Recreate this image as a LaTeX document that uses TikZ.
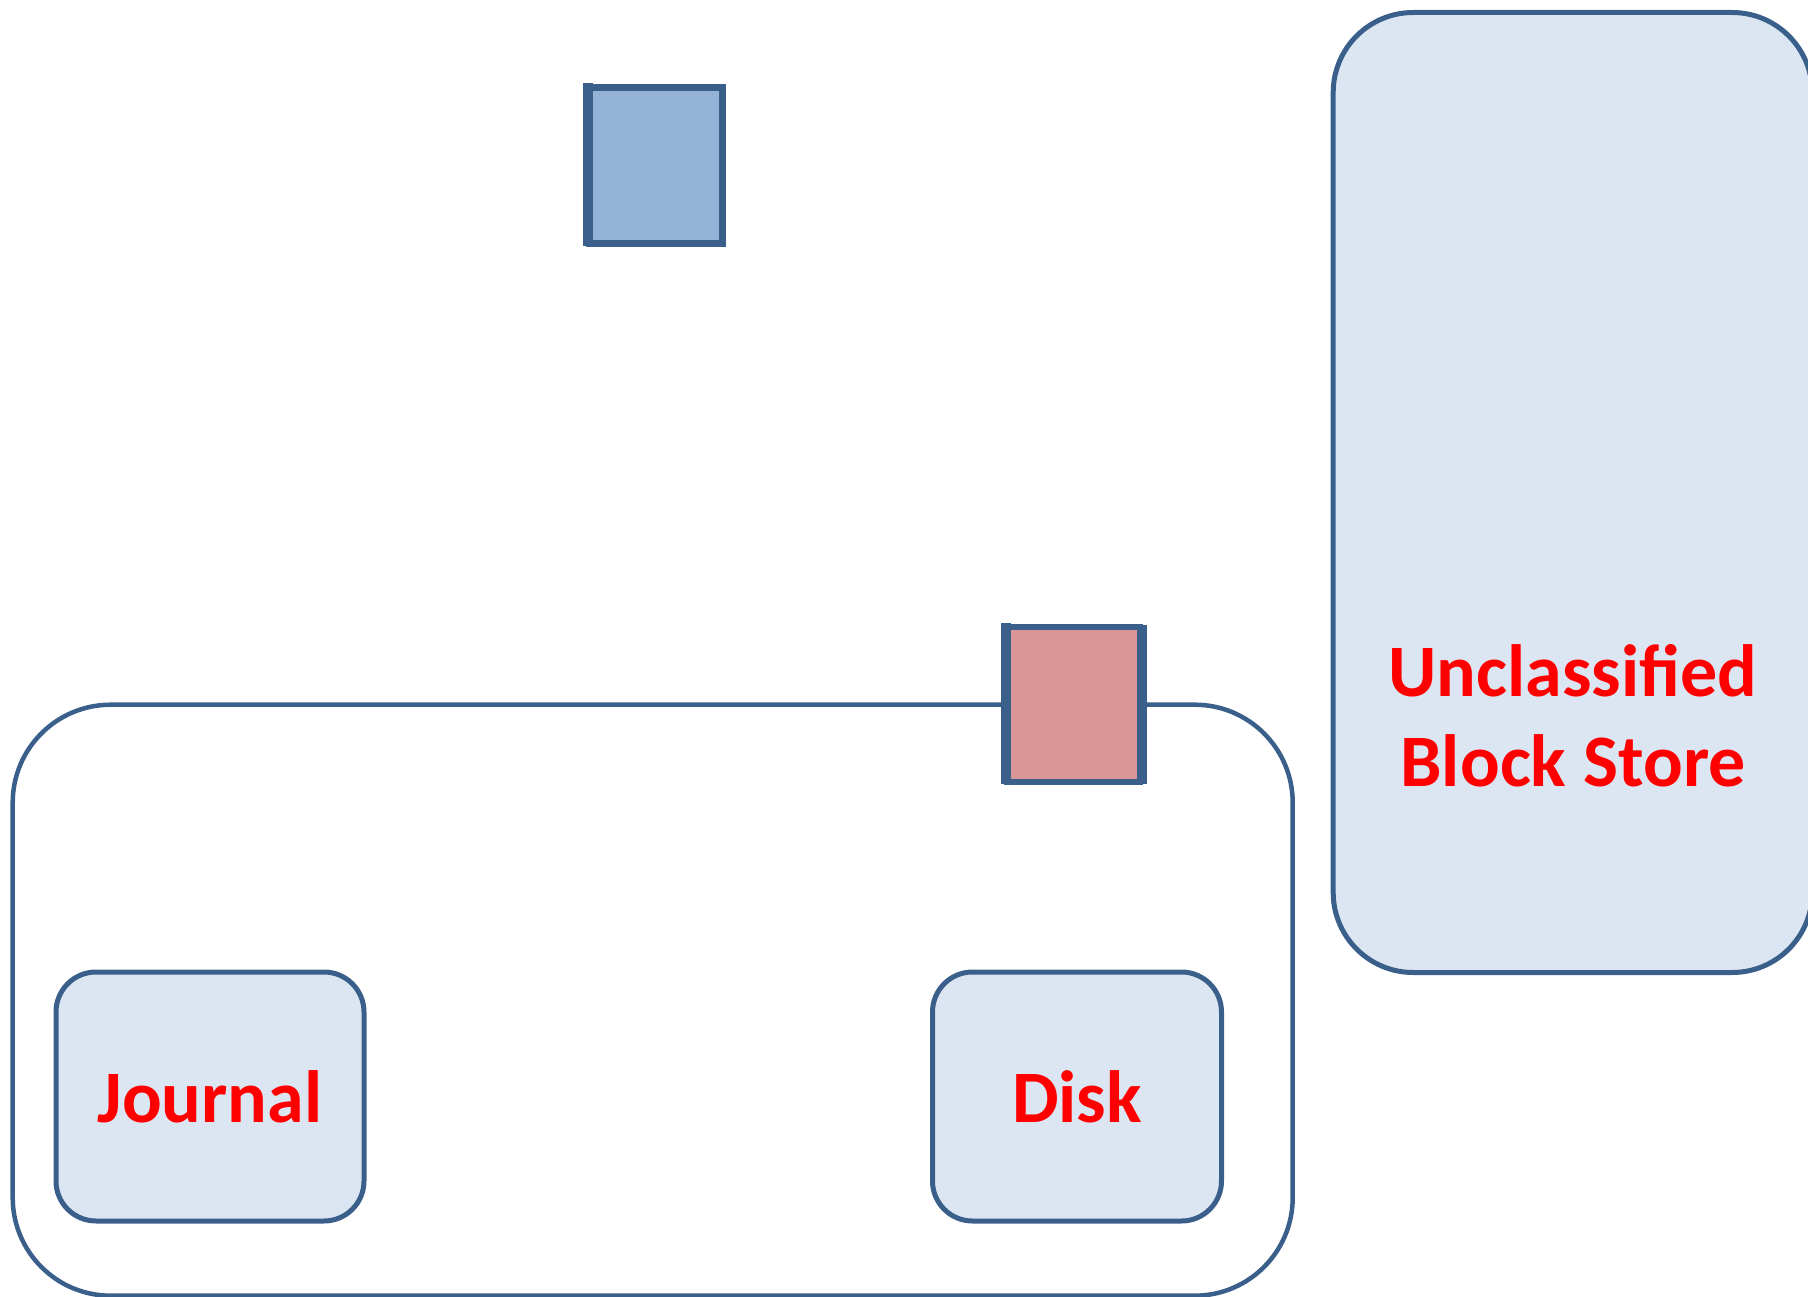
\documentclass[tikz,border=0pt]{standalone}
\usepackage{fontspec}
\setmainfont{Carlito}
\definecolor{edgeblue}{HTML}{3A5F8B}
\definecolor{paleblue}{HTML}{DCE6F2}
\definecolor{midblue}{HTML}{95B3D7}
\definecolor{rosered}{HTML}{D99694}
\definecolor{labelred}{HTML}{FF0000}
\tikzset{
  store/.style={draw=edgeblue, line width=5pt, fill=paleblue, rectangle, inner sep=0pt},
  host/.style={draw=edgeblue, line width=4.5pt, rectangle, inner sep=0pt},
  blockbox/.style={draw=edgeblue, line width=6.5pt, rectangle, inner sep=0pt},
  label/.style={text=labelred, font=\fontsize{74}{90}\selectfont\bfseries, align=center, inner sep=0pt}
}
\begin{document}
\begin{tikzpicture}[x=1pt,y=-1pt]
\useasboundingbox (0,0) rectangle (1808,1297);
\clip (0,0) rectangle (1808,1297);

% host container with journal and disk
\node[host, rounded corners=98pt, minimum width=1280pt, minimum height=591pt] (host) at (652.7,1000.2) {};
\node[store, rounded corners=40pt, minimum width=308pt, minimum height=249pt] (journal) at (210,1096.5) {};
\node[label] at (journal.center) {Journal};
\node[store, rounded corners=40pt, minimum width=289pt, minimum height=249pt] (disk) at (1077,1096.5) {};
\node[label] at (disk.center) {Disk};

% unclassified block store
\node[store, rounded corners=80pt, minimum width=479pt, minimum height=960pt] (ubs) at (1572.7,492.5) {};
\node[label] (ubslabel) at (1573,716) {Unclassified\\Block Store};

% blocks
\node[blockbox, fill=midblue, minimum width=133pt, minimum height=156pt] (blue) at (656,165.5) {};
\fill[edgeblue] ([xshift=-3.25pt,yshift=1pt]blue.north west) rectangle ([xshift=7pt,yshift=1pt]blue.south west);
\node[blockbox, fill=rosered, minimum width=133pt, minimum height=155pt] (red) at (1073.5,704.5) {};
\fill[edgeblue] ([xshift=-3.25pt,yshift=1pt]red.north west) rectangle ([xshift=7pt,yshift=1pt]red.south west);
\fill[edgeblue] ([xshift=-3pt,yshift=-1pt]red.north east) rectangle ([xshift=4pt,yshift=1pt]red.south east);
\end{tikzpicture}
\end{document}
